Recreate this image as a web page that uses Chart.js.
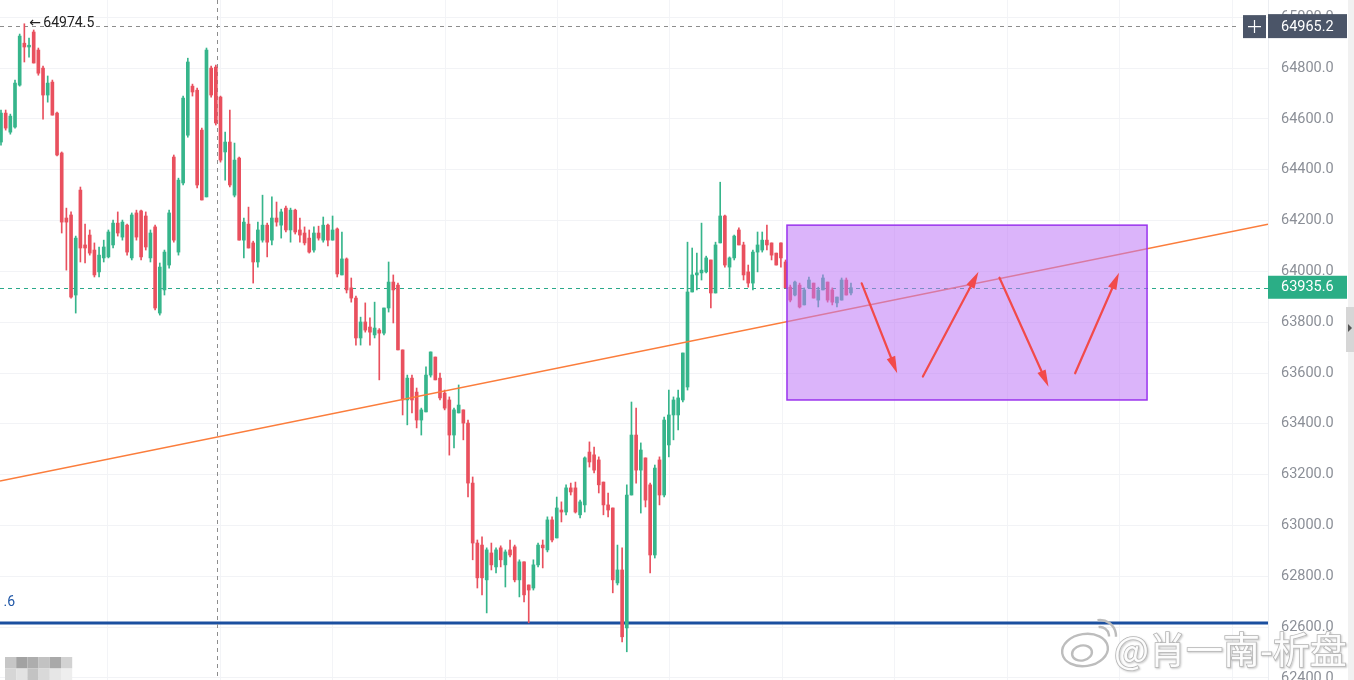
<!DOCTYPE html>
<html>
<head>
<meta charset="utf-8">
<script src="https://cdn.jsdelivr.net/npm/chart.js@4.4.1/dist/chart.umd.min.js"></script>
<style>
  html, body { margin: 0; padding: 0; background: #fff; overflow: hidden; }
  #wrap { position: relative; width: 1354px; height: 680px; }
</style>
</head>
<body>
<div id="wrap"><canvas id="kline"></canvas></div>
<script>
// OHLC, one candle per index
const opens = [
  64509, 64623, 64548, 64568, 64733, 64898, 64883, 64942, 64871, 64800,
  64694, 64745, 64623, 64466, 64210, 64222, 63907, 64320, 64104, 64143,
  64084, 63998, 64053, 64057, 64104, 64190, 64135, 64182, 64053, 64230,
  64238, 64218, 64053, 64175, 63836, 63927, 64025, 64450, 64076, 64348,
  64536, 64729, 64713, 64556, 64293, 64800, 64804, 64686, 64470, 64509,
  64300, 64446, 64123, 64186, 64112, 64037, 64123, 64182, 64123, 64210,
  64182, 64249, 64163, 64241, 64163, 64151, 64131, 64084, 64151, 64123,
  64182, 64123, 64167, 63986, 64049, 63935, 63895, 63738, 63801, 63781,
  63750, 63769, 63757, 63856, 63958, 63946, 63691, 63494, 63580, 63525,
  63415, 63447, 63592, 63663, 63580, 63521, 63494, 63356, 63443, 63455,
  63403, 63167, 62931, 62923, 62786, 62892, 62837, 62912, 62845, 62904,
  62916, 62786, 62857, 62766, 62754, 62845, 62923, 62904, 63022, 62951,
  63061, 63053, 63148, 63148, 63042, 63081, 63289, 63278, 63258, 63171,
  63081, 63069, 62774, 62825, 62597, 63120, 63356, 63218, 63266, 63160,
  62884, 63258, 63120, 63317, 63435, 63435, 63494, 63545, 63919, 63986,
  63994, 63998, 64045, 63915, 64112, 64218, 64017, 64053, 64163, 64104,
  63998, 63954, 64076, 64084, 64123, 64112, 64072, 64112, 64037, 63938,
  63907, 63946, 63868, 63935, 63954, 63887, 63927, 63958, 63927, 63876,
  63887, 63966, 63915
];
const highs = [
  64635, 64635, 64619, 64753, 64934, 64974.5, 64918, 64950, 64879, 64808,
  64769, 64753, 64627, 64470, 64249, 64234, 64139, 64332, 64186, 64163,
  64112, 64096, 64123, 64163, 64202, 64234, 64202, 64186, 64230, 64241,
  64241, 64234, 64163, 64182, 64033, 64084, 64241, 64458, 64367, 64690,
  64839, 64737, 64721, 64564, 64879, 64808, 64812, 64690, 64548, 64635,
  64505, 64450, 64210, 64253, 64119, 64194, 64300, 64190, 64293, 64273,
  64245, 64257, 64249, 64245, 64210, 64175, 64163, 64175, 64178, 64214,
  64186, 64218, 64171, 64155, 64053, 63974, 63903, 63820, 63876, 63817,
  63879, 63775, 63856, 64037, 63986, 63954, 63691, 63592, 63592, 63541,
  63462, 63624, 63683, 63663, 63600, 63533, 63506, 63462, 63553, 63455,
  63415, 63191, 62943, 62955, 62912, 62931, 62912, 62920, 62904, 62943,
  62923, 62865, 62857, 62766, 62865, 62931, 62943, 63034, 63034, 63112,
  63093, 63160, 63167, 63171, 63100, 63270, 63329, 63309, 63270, 63171,
  63128, 63069, 62923, 62912, 63160, 63486, 63462, 63325, 63266, 63167,
  63238, 63270, 63427, 63533, 63506, 63533, 63679, 64115, 64092, 64072,
  64190, 64060, 64045, 64115, 64351, 64222, 64057, 64143, 64171, 64115,
  64025, 64084, 64155, 64155, 64182, 64112, 64072, 64112, 64045, 63946,
  63962, 63954, 63935, 63978, 63954, 63938, 63986, 63958, 63935, 63899,
  63974, 63974, 63954
];
const lows = [
  64497, 64556, 64540, 64564, 64729, 64824, 64843, 64820, 64772, 64599,
  64666, 64615, 64454, 64151, 64005, 63895, 63836, 64037, 64033, 64064,
  63978, 63978, 64037, 64053, 64092, 64139, 64123, 64064, 64045, 64123,
  64045, 64084, 64037, 63848, 63828, 63907, 64013, 64115, 64064, 64340,
  64528, 64690, 64328, 64281, 64293, 64686, 64576, 64430, 64359, 64332,
  64293, 64123, 64053, 64092, 63954, 64017, 64115, 64057, 64104, 64178,
  64131, 64155, 64115, 64147, 64115, 64104, 64072, 64076, 64123, 64115,
  64100, 64123, 63978, 63986, 63915, 63879, 63710, 63710, 63761, 63710,
  63738, 63573, 63750, 63840, 63797, 63691, 63435, 63396, 63443, 63384,
  63356, 63447, 63584, 63573, 63494, 63455, 63277, 63305, 63443, 63337,
  63112, 62865, 62754, 62727, 62656, 62825, 62813, 62837, 62758, 62876,
  62778, 62719, 62699, 62617, 62746, 62837, 62833, 62896, 62935, 62951,
  63014, 63042, 63120, 63049, 63030, 63053, 63230, 63207, 63128, 63042,
  63034, 62735, 62766, 62542, 62503, 63120, 63167, 63049, 63073, 62813,
  62872, 63081, 63112, 63270, 63337, 63376, 63486, 63533, 63919, 63927,
  63966, 63994, 63856, 63915, 64112, 64017, 63938, 64045, 64104, 63966,
  63938, 63927, 63998, 64076, 64084, 64045, 64025, 64017, 63935, 63880,
  63903, 63856, 63868, 63935, 63895, 63860, 63927, 63879, 63868, 63860,
  63887, 63907, 63907
];
const closes = [
  64623, 64564, 64611, 64741, 64926, 64883, 64890, 64820, 64780, 64694,
  64741, 64615, 64458, 64194, 64194, 63899, 64131, 64092, 64092, 64072,
  63986, 64064, 64096, 64155, 64190, 64151, 64194, 64076, 64222, 64135,
  64057, 64096, 64151, 63856, 64017, 64076, 64230, 64123, 64359, 64682,
  64824, 64706, 64340, 64281, 64871, 64694, 64584, 64438, 64509, 64340,
  64438, 64123, 64194, 64092, 64037, 64163, 64182, 64115, 64210, 64194,
  64234, 64163, 64241, 64155, 64143, 64112, 64076, 64151, 64131, 64182,
  64123, 64163, 63990, 64049, 63927, 63895, 63738, 63801, 63769, 63761,
  63777, 63757, 63856, 63958, 63927, 63691, 63494, 63580, 63494, 63415,
  63455, 63592, 63683, 63573, 63502, 63462, 63356, 63455, 63474, 63403,
  63167, 62931, 62794, 62794, 62904, 62845, 62904, 62865, 62896, 62884,
  62786, 62857, 62727, 62746, 62845, 62923, 62912, 63022, 62943, 63069,
  63053, 63148, 63132, 63053, 63093, 63266, 63250, 63218, 63160, 63081,
  63061, 62786, 62825, 62562, 63120, 63356, 63218, 63297, 63100, 62884,
  63226, 63120, 63415, 63435, 63494, 63502, 63679, 63919, 63986, 63994,
  64005, 64053, 63915, 64104, 64218, 64025, 64053, 64139, 64104, 63986,
  63954, 64076, 64104, 64123, 64104, 64064, 64025, 64053, 63935, 63887,
  63958, 63860, 63927, 63966, 63895, 63927, 63974, 63887, 63879, 63899,
  63966, 63907, 63935.6
];

const yTicks = [62400, 62600, 62800, 63000, 63200, 63400, 63600, 63800, 64000, 64200, 64400, 64600, 64800, 65000];
const lastPrice = 63935.6;
const crossPrice = 64965.2;
const crossIndex = 46.3;
const supportPrice = 62616.6;
// trend line: [index, price] at both ends
const trendIdx = [-0.214, 271.3];
const trendPrice = [63175, 64186];
// range box drawn over the recent candles
const boxIdx = [168.3, 245.4];
const boxPrice = [64182, 63494];
// hand drawn arrows inside the box: [idx, price]
const arrowsFrom = [[184.3, 63953], [197.4, 63586], [213.8, 63975], [230.0, 63599]];
const arrowsTo   = [[191.9, 63599], [209.3, 63999], [224.3, 63546], [239.4, 63995]];

const UP = '#36b58b';
const DOWN = '#e9505e';
const candleColor = ctx => closes[ctx.dataIndex] >= opens[ctx.dataIndex] ? UP : DOWN;

const gridIdx = [];
for (let v = 22.9; v < 272; v += 24.07) gridIdx.push(v);

const idxs = closes.map((c, i) => i);
const bodyData = idxs.map(i => ({ x: i, y: [opens[i], closes[i]] }));
const wickData = idxs.map(i => ({ x: i, y: [lows[i], highs[i]] }));

function dashed(ctx, x0, y0, x1, y1, color, dash) {
  ctx.save();
  ctx.strokeStyle = color;
  ctx.lineWidth = 1;
  ctx.setLineDash(dash);
  ctx.beginPath();
  ctx.moveTo(x0, y0);
  ctx.lineTo(x1, y1);
  ctx.stroke();
  ctx.restore();
}

function arrow(ctx, x0, y0, x1, y1) {
  const a = Math.atan2(y1 - y0, x1 - x0);
  const len = 17, half = 4.5;
  const bx = x1 - len * Math.cos(a), by = y1 - len * Math.sin(a);
  ctx.save();
  ctx.strokeStyle = '#f24a4a';
  ctx.fillStyle = '#f24a4a';
  ctx.lineWidth = 2.2;
  ctx.lineCap = 'round';
  ctx.beginPath();
  ctx.moveTo(x0, y0);
  ctx.lineTo(bx, by);
  ctx.stroke();
  ctx.beginPath();
  ctx.moveTo(x1, y1);
  ctx.lineTo(bx + half * Math.sin(a), by - half * Math.cos(a));
  ctx.lineTo(bx - half * Math.sin(a), by + half * Math.cos(a));
  ctx.closePath();
  ctx.fill();
  ctx.restore();
}

const overlay = {
  id: 'overlay',
  beforeDatasetsDraw(chart) {
    const { ctx, chartArea: ca, scales: { x, y } } = chart;
    ctx.save();
    ctx.beginPath();
    ctx.rect(ca.left, ca.top, ca.right - ca.left, ca.bottom - ca.top);
    ctx.clip();
    // support line
    const sy = y.getPixelForValue(supportPrice);
    ctx.strokeStyle = '#1b4f9f';
    ctx.lineWidth = 3;
    ctx.beginPath();
    ctx.moveTo(ca.left, sy);
    ctx.lineTo(ca.right, sy);
    ctx.stroke();
    // last price line
    const ly = Math.round(y.getPixelForValue(lastPrice)) + 0.5;
    dashed(ctx, ca.left, ly, ca.right, ly, '#2aa98a', [4, 4]);
    // crosshair
    const cy = Math.round(y.getPixelForValue(crossPrice)) + 0.5;
    const cx = Math.round(x.getPixelForValue(crossIndex)) + 0.5;
    dashed(ctx, ca.left, cy, ca.right - 28, cy, '#8d8d8d', [4, 4]);
    dashed(ctx, cx, ca.top, cx, ca.bottom, '#8d8d8d', [4, 4]);
    ctx.restore();
  },
  afterDatasetsDraw(chart) {
    const { ctx, chartArea: ca, scales: { x, y } } = chart;
    // range box
    const bx0 = x.getPixelForValue(boxIdx[0]), bx1 = x.getPixelForValue(boxIdx[1]);
    const by0 = y.getPixelForValue(boxPrice[0]), by1 = y.getPixelForValue(boxPrice[1]);
    ctx.save();
    ctx.fillStyle = 'rgba(190,118,246,0.55)';
    ctx.fillRect(bx0, by0, bx1 - bx0, by1 - by0);
    ctx.strokeStyle = '#9a33ee';
    ctx.lineWidth = 1.5;
    ctx.strokeRect(bx0, by0, bx1 - bx0, by1 - by0);
    ctx.restore();
    arrowsFrom.forEach((f, k) => {
      const t = arrowsTo[k];
      arrow(ctx, x.getPixelForValue(f[0]), y.getPixelForValue(f[1]),
                 x.getPixelForValue(t[0]), y.getPixelForValue(t[1]));
    });
    // highest high marker
    let hi = 0;
    highs.forEach((h, i) => { if (h > highs[hi]) hi = i; });
    const hx = x.getPixelForValue(hi), hy = y.getPixelForValue(highs[hi]);
    ctx.save();
    ctx.textBaseline = 'middle';
    ctx.fillStyle = '#222';
    ctx.font = '14px "DejaVu Sans", sans-serif';
    ctx.fillText('\u2190', hx + 5, hy);
    ctx.font = '14px Roboto, "Liberation Sans", sans-serif';
    ctx.fillText(highs[hi].toFixed(1), hx + 19, hy);
    // cut off support label at left edge
    ctx.beginPath();
    ctx.rect(ca.left + 3, ca.top, 200, ca.bottom - ca.top);
    ctx.clip();
    ctx.fillStyle = '#1f56a6';
    ctx.textAlign = 'right';
    ctx.fillText(supportPrice.toFixed(1), ca.left + 15, y.getPixelForValue(supportPrice) - 20);
    ctx.restore();
  },
  afterDraw(chart) {
    const { ctx, chartArea: ca, scales: { y } } = chart;
    ctx.save();
    ctx.font = '14.5px Roboto, "Liberation Sans", sans-serif';
    ctx.textBaseline = 'middle';
    // crosshair price tag
    const cy = y.getPixelForValue(crossPrice);
    ctx.fillStyle = '#4b5568';
    ctx.fillRect(ca.right - 25, cy - 11, 23, 23);
    ctx.fillRect(ca.right, cy - 12, 79, 24);
    ctx.strokeStyle = '#fff';
    ctx.lineWidth = 1.2;
    ctx.beginPath();
    ctx.moveTo(ca.right - 20, cy + 0.5); ctx.lineTo(ca.right - 7, cy + 0.5);
    ctx.moveTo(ca.right - 13.5, cy - 6); ctx.lineTo(ca.right - 13.5, cy + 7);
    ctx.stroke();
    ctx.fillStyle = '#fff';
    ctx.fillText(crossPrice.toFixed(1), ca.right + 13, cy + 1);
    // last price tag
    const ly = y.getPixelForValue(lastPrice);
    ctx.fillStyle = '#2bae86';
    ctx.fillRect(ca.right, ly - 12, 79, 23);
    ctx.fillStyle = '#fff';
    ctx.fillText(lastPrice.toFixed(1), ca.right + 13, ly);
    // right scroll strip
    ctx.fillStyle = '#f1f1f1';
    ctx.fillRect(1348, 0, 6, 680);
    ctx.fillStyle = '#d6d6d6';
    ctx.fillRect(1346, 307, 8, 45);
    ctx.fillStyle = '#555';
    ctx.beginPath();
    ctx.moveTo(1348, 324); ctx.lineTo(1352, 328); ctx.lineTo(1348, 332);
    ctx.fill();
    // pixelated blur block
    const shades = [['#c6c6c6', '#a2a2a2', '#adadad', '#c2c2c2', '#a9a9a9', '#d2d2d2'],
                    ['#d6d6d6', '#e2e2e2', '#c3c3c3', '#d9d9d9', '#e6e6e6', '#eeeeee']];
    shades.forEach((row, r) => row.forEach((c, k) => {
      ctx.fillStyle = c;
      ctx.fillRect(5 + k * 11.2, 657 + r * 11.5, 11.2, 11.5);
    }));
    // watermark
    ctx.lineWidth = 2.4;
    ctx.strokeStyle = '#bdbdbd';
    ctx.fillStyle = '#ffffff';
    ctx.beginPath();
    ctx.ellipse(1085, 650, 23, 16, -0.15, 0, Math.PI * 2);
    ctx.fill(); ctx.stroke();
    ctx.beginPath();
    ctx.ellipse(1082, 653, 10, 7.5, -0.2, 0, Math.PI * 2);
    ctx.stroke();
    ctx.beginPath();
    ctx.arc(1100, 636, 9, -Math.PI * 0.55, 0.05);
    ctx.stroke();
    ctx.beginPath();
    ctx.arc(1100, 636, 16, -Math.PI * 0.55, 0.05);
    ctx.stroke();
    ctx.font = '37px "Noto Sans CJK SC", sans-serif';
    ctx.textBaseline = 'alphabetic';
    ctx.shadowColor = 'rgba(0,0,0,0.25)';
    ctx.shadowBlur = 2;
    ctx.shadowOffsetX = 1;
    ctx.shadowOffsetY = 1;
    ctx.lineWidth = 1.6;
    ctx.strokeStyle = '#b5b5b5';
    ctx.strokeText('@肖一南-析盘', 1114, 664);
    ctx.shadowColor = 'transparent';
    ctx.fillStyle = 'rgba(255,255,255,0.95)';
    ctx.fillText('@肖一南-析盘', 1114, 664);
    ctx.restore();
  }
};

const ctx = document.getElementById('kline').getContext('2d');
new Chart(ctx, {
  type: 'bar',
  data: {
    datasets: [
      {
        type: 'line',
        data: trendIdx.map((v, i) => ({ x: v, y: trendPrice[i] })),
        borderColor: '#fb7d3c',
        borderWidth: 1.5,
        pointRadius: 0,
        order: 0
      },
      {
        data: bodyData,
        backgroundColor: candleColor,
        barThickness: 3,
        minBarLength: 1,
        grouped: false,
        order: 1
      },
      {
        data: wickData,
        backgroundColor: candleColor,
        barThickness: 1,
        grouped: false,
        order: 2
      }
    ]
  },
  options: {
    responsive: true,
    maintainAspectRatio: false,
    animation: false,
    layout: { padding: 0 },
    plugins: { legend: { display: false }, tooltip: { enabled: false } },
    scales: {
      x: {
        type: 'linear',
        min: -0.214,
        max: 271.3,
        offset: false,
        grid: { color: '#f3f4f7', drawTicks: false, offset: false },
        border: { display: false },
        ticks: { display: false },
        afterBuildTicks: s => { s.ticks = gridIdx.map(v => ({ value: v })); },
        afterFit: s => { s.height = 0; s.paddingLeft = 0; s.paddingRight = 0; }
      },
      y: {
        type: 'linear',
        position: 'right',
        min: 62392,
        max: 65068,
        beginAtZero: false,
        grid: { color: '#f2f3f6', drawTicks: false },
        border: { color: '#eceef2' },
        ticks: {
          padding: 13,
          color: '#8b8f97',
          font: { family: 'Roboto', size: 14.5 },
          callback: v => v.toFixed(1)
        },
        afterBuildTicks: s => { s.ticks = yTicks.map(v => ({ value: v })); },
        afterFit: s => { s.width = 86; s.paddingTop = 0; s.paddingBottom = 0; }
      }
    }
  },
  plugins: [overlay]
});
</script>
</body>
</html>
